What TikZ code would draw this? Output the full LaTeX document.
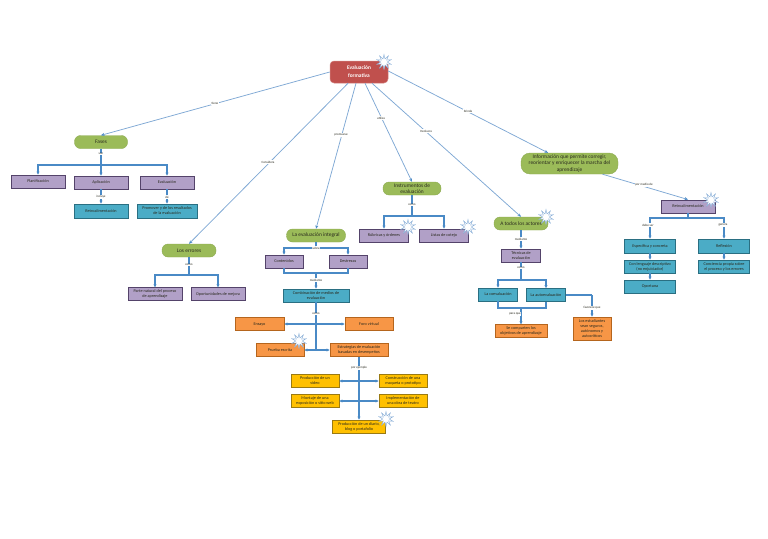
\documentclass[tikz,border=0pt]{standalone}
\usepackage{fontspec}
\setmainfont{Carlito}
\usetikzlibrary{shapes.geometric,arrows.meta}
\definecolor{cgreen}{HTML}{9BBB59}
\definecolor{cgreenb}{HTML}{8CAA50}
\definecolor{cpurple}{HTML}{B1A0C7}
\definecolor{cpurpleb}{HTML}{54436A}
\definecolor{cteal}{HTML}{4BACC6}
\definecolor{ctealb}{HTML}{2A6F82}
\definecolor{corange}{HTML}{F79646}
\definecolor{corangeb}{HTML}{B5651D}
\definecolor{cgold}{HTML}{FFC000}
\definecolor{cgoldb}{HTML}{9A7A12}
\definecolor{cred}{HTML}{C0504D}
\definecolor{cthin}{HTML}{7FA8D4}
\definecolor{cthick}{HTML}{4A8AC6}
\definecolor{ctxt}{HTML}{2A2A1E}
\tikzset{
 basebox/.style={inner sep=0pt,align=center,text=ctxt,font=\fontsize{4.2}{5}\selectfont,line width=0.9pt},
 gbox/.style={basebox,rectangle,rounded corners=6pt,fill=cgreen,draw=cgreenb,line width=0.4pt,font=\fontsize{5.4}{6.4}\selectfont},
 pbox/.style={basebox,rectangle,fill=cpurple,draw=cpurpleb},
 tbox/.style={basebox,rectangle,fill=cteal,draw=ctealb},
 obox/.style={basebox,rectangle,fill=corange,draw=corangeb},
 ybox/.style={basebox,rectangle,fill=cgold,draw=cgoldb},
 wh/.style n args={2}{minimum width=#1pt,minimum height=#2pt},
 thinlink/.style={draw=cthin,line width=0.75pt,-{Stealth[length=3.5pt,width=3pt,color=cthick]}},
 buslink/.style={draw=cthick,line width=1.2pt},
 arrlink/.style={draw=cthick,line width=1.2pt,-{Stealth[length=3pt,width=3pt]}},
 lab/.style={fill=white,inner sep=0.5pt,text=ctxt,font=\fontsize{3.2}{3.6}\selectfont},
 burst/.style={star,star points=10,star point ratio=2.3,minimum size=15pt,inner sep=0pt,fill=white,draw=cthin,line width=0.4pt},
}
\begin{document}
\begin{tikzpicture}[x=1pt,y=-1pt]
\useasboundingbox (0,0) rectangle (768,538);
% root
\node[basebox,rectangle,rounded corners=4pt,fill=cred,draw=cred!70!white,line width=0.5pt,text=white,font=\bfseries\fontsize{5.4}{8}\selectfont,wh={58}{22}] (root) at (359,72) {Evaluación\\formativa};
% left
\node[gbox,wh={53}{13}] (fases) at (101,142) {Fases};
\node[pbox,wh={54}{13}] (plan) at (38,181.5) {Planificación};
\node[pbox,wh={54}{13}] (aplic) at (101,182.5) {Aplicación};
\node[pbox,wh={54}{13}] (evalu) at (167,182.5) {Evaluación};
\node[tbox,wh={54}{14}] (retroa) at (101,211) {Retroalimentación};
\node[tbox,wh={60}{14}] (promo) at (167,211) {Promover y de los resultados\\de la evaluación};
\node[gbox,wh={54}{13}] (errores) at (189,250.5) {Los errores};
\node[pbox,wh={54}{12.5}] (parte) at (155,294) {Parte natural del proceso\\de aprendizaje};
\node[pbox,wh={54}{12.5}] (oport) at (218,294) {Oportunidades de mejora};
% integral
\node[gbox,wh={59}{13}] (integral) at (316,235.5) {La evaluación integral};
\node[pbox,wh={38}{13}] (conte) at (284,261.5) {Contenidos};
\node[pbox,wh={38}{13}] (destr) at (348,261.5) {Destrezas};
\node[tbox,wh={66}{13}] (combi) at (316,295.5) {Combinación de medios de\\evaluación};
\node[obox,wh={49}{13}] (ensayo) at (259.5,324) {Ensayo};
\node[obox,wh={48}{13}] (foro) at (369,324) {Foro virtual};
\node[obox,wh={48}{13}] (prueba) at (280,350) {Prueba escrita};
\node[obox,wh={58}{13}] (estra) at (359,350) {Estrategias de evaluación\\basadas en desempeños};
\node[ybox,wh={48}{12.5}] (video) at (315,381) {Producción de un\\video};
\node[ybox,wh={48}{12.5}] (maque) at (403,381) {Construcción de una\\maqueta o prototipo};
\node[ybox,wh={48}{13}] (monta) at (315,401) {Montaje de una\\exposición o sitio web};
\node[ybox,wh={48}{13}] (obra) at (403,401) {Implementación de\\una obra de teatro};
\node[ybox,wh={53}{13}] (diario) at (359,426.5) {Producción de un diario,\\blog o portafolio};
% instrumentos
\node[gbox,wh={58}{13}] (instr) at (412,188.5) {Instrumentos de\\evaluación};
\node[pbox,wh={49}{13}] (rubri) at (384,235.5) {Rúbricas y órdenes};
\node[pbox,wh={49}{13}] (listas) at (444,235.5) {Listas de cotejo};
% actores
\node[gbox,wh={54}{13}] (actores) at (521,223.5) {A todos los actores};
\node[pbox,wh={39}{13}] (tecni) at (521,255.5) {Técnicas de\\evaluación};
\node[tbox,wh={39}{13}] (coev) at (498,294.5) {La coevaluación};
\node[tbox,wh={39}{13}] (autoe) at (546,295) {La autoevaluación};
\node[obox,wh={52}{12.5}] (compa) at (521,331) {Se comparten los\\objetivos de aprendizaje};
\node[obox,wh={38}{23}] (segur) at (592,328.5) {Los estudiantes\\sean seguros,\\autónomos y\\autocríticos};
% informacion
\node[gbox,rounded corners=9pt,wh={97}{21}] (info) at (569.5,163.5) {Información que permite corregir,\\reorientar y enriquecer la marcha del\\aprendizaje};
\node[pbox,wh={54}{13}] (retrob) at (688,206.5) {Retroalimentación};
\node[tbox,wh={51}{14}] (espec) at (650,246) {Específica y concreta};
\node[tbox,wh={51}{13}] (lengu) at (650,266.5) {Con lenguaje descriptivo\\(no enjuiciador)};
\node[tbox,wh={51}{13}] (oporta) at (650,286.5) {Oportuna};
\node[tbox,wh={51}{14}] (reflex) at (724,246) {Reflexión};
\node[tbox,wh={51}{13}] (conci) at (724,266.5) {Conciencia propia sobre\\el proceso y los errores};
% junctions
\coordinate (jf) at (fases.south |- 0,165);
\coordinate (je) at (errores.south |- 0,275);
\coordinate (ji) at (integral.south |- 0,248);
\coordinate (jc) at (combi.north |- 0,273);
\coordinate (jm) at (combi.south |- 0,324);
\coordinate (jp) at (combi.south |- 0,350);
\coordinate (js) at (estra.south |- 0,381);
\coordinate (jt) at (estra.south |- 0,401);
\coordinate (jn) at (instr.south |- 0,216);
\coordinate (ja) at (tecni.south |- 0,280);
\coordinate (jb) at (compa.north |- 0,308);
\coordinate (jr) at (retrob.south |- 0,218);
\coordinate (jq) at (segur.north |- autoe.east);
% thin links
\draw[thinlink] (root.west) -- (fases.north);
\draw[thinlink] ([xshift=-11pt]root.south) -- (errores.north);
\draw[thinlink] ([xshift=-3pt]root.south) -- (integral.north);
\draw[thinlink] ([xshift=6pt]root.south) -- (instr.north);
\draw[thinlink] ([xshift=13pt]root.south) -- (actores.north);
\draw[thinlink] ([yshift=1pt]root.east) -- ([xshift=-21.5pt]info.north);
\draw[thinlink] ([xshift=33pt]info.south) -- (retrob.north);
% thick links
\draw[buslink] (fases.south) -- (jf);
\draw[arrlink] (jf) -| (plan.north);
\draw[arrlink] (jf) -- (aplic.north);
\draw[arrlink] (jf) -| (evalu.north);
\draw[arrlink] (aplic.south) -- (retroa.north);
\draw[arrlink] (evalu.south) -- (promo.north);
\draw[buslink] (errores.south) -- (je);
\draw[arrlink] (je) -| (parte.north);
\draw[arrlink] (je) -| (oport.north);
\draw[buslink] (integral.south) -- (ji);
\draw[arrlink] (ji) -| (conte.north);
\draw[arrlink] (ji) -| (destr.north);
\draw[buslink] (conte.south) |- (jc);
\draw[buslink] (destr.south) |- (jc);
\draw[arrlink] (jc) -- (combi.north);
\draw[buslink] (combi.south) -- (jp);
\draw[arrlink] (jm) -- (ensayo.east);
\draw[arrlink] (jm) -- (foro.west);
\draw[arrlink] (jp) -- (prueba.east);
\draw[arrlink] (jp) -- (estra.west);
\draw[arrlink] (estra.south) -- (diario.north);
\draw[arrlink] (js) -- (video.east);
\draw[arrlink] (js) -- (maque.west);
\draw[arrlink] (jt) -- (monta.east);
\draw[arrlink] (jt) -- (obra.west);
\draw[buslink] (instr.south) -- (jn);
\draw[arrlink] (jn) -| (rubri.north);
\draw[arrlink] (jn) -| (listas.north);
\draw[arrlink] (actores.south) -- (tecni.north);
\draw[buslink] (tecni.south) -- (ja);
\draw[arrlink] (ja) -| (coev.north);
\draw[arrlink] (ja) -| (autoe.north);
\draw[buslink] (coev.south) |- (jb);
\draw[buslink] (autoe.south) |- (jb);
\draw[arrlink] (jb) -- (compa.north);
\draw[buslink] (autoe.east) -- (jq);
\draw[arrlink] (jq) -- (segur.north);
\draw[buslink] (retrob.south) -- (jr);
\draw[arrlink] (jr) -| (espec.north);
\draw[arrlink] (jr) -| (reflex.north);
\draw[arrlink] (espec.south) -- (lengu.north);
\draw[arrlink] (lengu.south) -- (oporta.north);
\draw[arrlink] (reflex.south) -- (conci.north);
% labels
\node[lab] (l1) at (215,103) {tiene};
\node[lab] (l2) at (101,154) {son};
\node[lab] (l3) at (101,197) {incluye};
\node[lab] (l4) at (167,197) {dé};
\node[lab] (l5) at (268,162) {Considera};
\node[lab] (l6) at (189,265) {como};
\node[lab] (l7) at (341,135) {promueve};
\node[lab] (l8) at (381,118) {utiliza};
\node[lab] (l9) at (426,131) {Involucra};
\node[lab] (l10) at (468,111) {brinda};
\node[lab] (l11) at (316,248) {sobre};
\node[lab] (l12) at (316,280) {mediante};
\node[lab] (l13) at (316,314) {como};
\node[lab] (l14) at (359,368) {por ejemplo};
\node[lab] (l15) at (412,205) {como};
\node[lab] (l16) at (521,239) {mediante};
\node[lab] (l17) at (521,268) {como};
\node[lab] (l18) at (515,314) {para que};
\node[lab] (l19) at (592,308) {favorece que};
\node[lab] (l20) at (644,185) {por medio de};
\node[lab] (l21) at (648,225) {debe ser};
\node[lab] (l22) at (723,225) {genera};
% stars
\node[burst] (s1) at (384,62) {};
\node[burst] (s2) at (711,200) {};
\node[burst] (s3) at (546,217) {};
\node[burst] (s4) at (408,227) {};
\node[burst] (s5) at (468,227) {};
\node[burst] (s6) at (299,341) {};
\node[burst] (s7) at (386,419) {};
\end{tikzpicture}
\end{document}
